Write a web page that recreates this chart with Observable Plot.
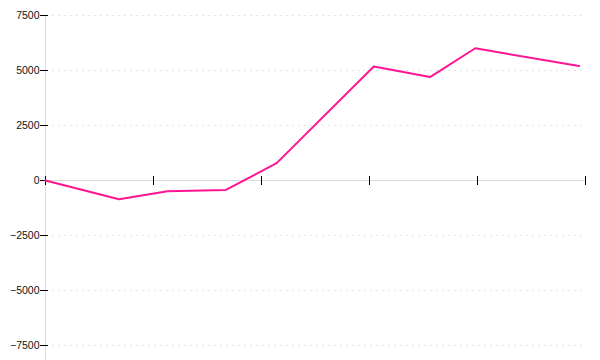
<!DOCTYPE html>
<html>
<head>
<meta charset="utf-8">
<script src="https://cdn.jsdelivr.net/npm/d3@7"></script>
<script src="https://cdn.jsdelivr.net/npm/@observablehq/plot@0.6"></script>
<style>
  html, body { margin: 0; padding: 0; background: #fff; }
</style>
</head>
<body>
<div id="chart"></div>
<script>
const xValues = [0, 6.8, 11.3, 16.7, 21.4, 30.4, 35.6, 39.8, 49.4];
const yValues = [0, -850, -490, -430, 790, 5180, 4700, 6010, 5200];
const yTicks = [-7500, -5000, -2500, 0, 2500, 5000, 7500];
const xTicks = [0, 10, 20, 30, 40, 50];

const data = xValues.map((x, i) => ({x, y: yValues[i]}));
const grid = yTicks.filter(v => v !== 0);

const chart = Plot.plot({
  width: 600,
  height: 360,
  marginLeft: 45,
  marginRight: 15,
  marginTop: 15,
  marginBottom: 15,
  style: {fontFamily: "Liberation Sans, Arial, sans-serif", fontSize: "10.5px", color: "#222", background: "#fff"},
  x: {domain: [0, 50], axis: null},
  y: {domain: [-7500, 7500], label: null},
  marks: [
    Plot.ruleY(grid, {y: d => d, x1: 0.65, x2: 50, stroke: "#e3e3e3", strokeDasharray: "2,4", shapeRendering: "crispEdges"}),
    Plot.ruleX([0], {y1: 7500, y2: -8200, stroke: "#dcdcdc", clip: false, shapeRendering: "crispEdges"}),
    Plot.ruleY([0], {x1: 0, x2: 50, stroke: "#dcdcdc", shapeRendering: "crispEdges"}),
    Plot.ruleX(xTicks, {x: d => d, y1: 180, y2: -230, stroke: "#000", shapeRendering: "crispEdges"}),
    Plot.axisY({ticks: yTicks, label: null, tickSize: 8, dx: 3, tickPadding: 1, tickFormat: d => String(d).replace("-", "\u2212"), stroke: "#000", fill: "#111", shapeRendering: "crispEdges"}),
    Plot.line(data, {x: "x", y: "y", stroke: "#ff1493", strokeWidth: 2})
  ]
});
document.getElementById("chart").appendChild(chart);
</script>
</body>
</html>
